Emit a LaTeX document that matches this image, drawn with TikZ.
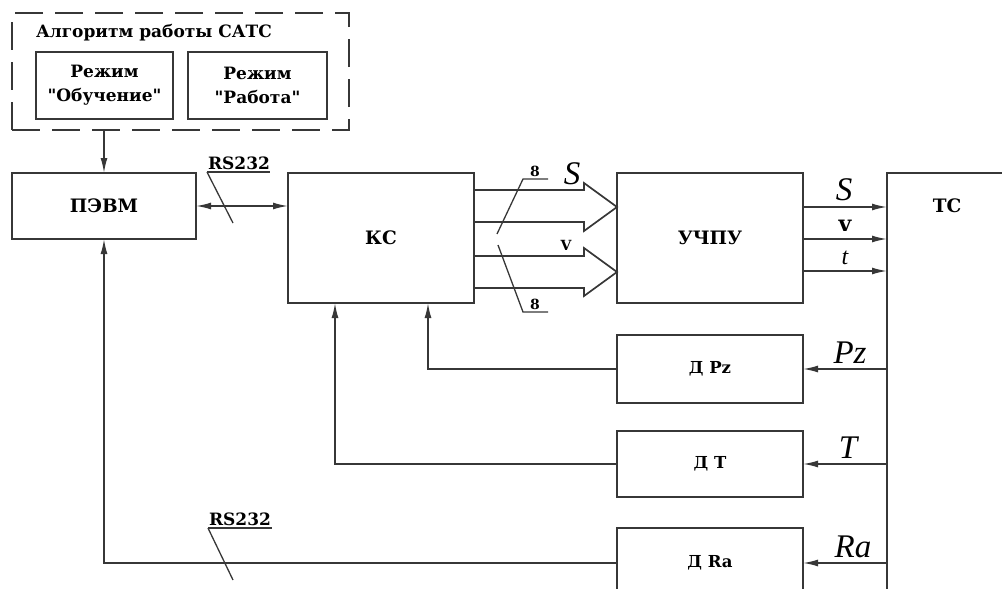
\documentclass[tikz,border=0pt]{standalone}
\usepackage{fontspec}
\setmainfont{DejaVu Serif}[Ligatures=TeXOff]
\newfontfamily\itfont{Liberation Serif}
\usetikzlibrary{arrows.meta,calc}
\definecolor{ln}{RGB}{55,55,55}
\begin{document}
\begin{tikzpicture}[x=1pt,y=-1pt,
  every node/.style={inner sep=0pt, outer sep=0pt},
  blk/.style={draw=ln, line width=1.7pt, align=center,
    font=\bfseries\fontsize{17}{24}\selectfont},
  mainbox/.style={blk, font=\bfseries\fontsize{18.5}{24}\selectfont},
  sensbox/.style={blk, minimum width=186pt, font=\bfseries\fontsize{16.5}{20}\selectfont},
  conn/.style={draw=ln, line width=1.7pt},
  arr/.style={conn, -{Latex[length=15pt,width=7pt]}},
  lbl/.style={font=\bfseries\fontsize{17}{20}\selectfont},
  small/.style={font=\bfseries\fontsize{14}{16}\selectfont},
  var/.style={font=\itfont\itshape\fontsize{33}{36}\selectfont},
]
\clip (0,0) rectangle (1002,589);
% algorithm block
\node[draw=ln, line width=1.7pt, dash pattern=on 28pt off 12pt,
      minimum width=337pt, minimum height=117pt] (alg) at (180.5,71.5) {};
\node[lbl, anchor=west] (algt) at (36,33) {Алгоритм работы САТС};
\node[blk, minimum width=137pt, minimum height=67pt] (obuch) at (104.5,85.5) {Режим\\"Обучение"};
\node[blk, minimum width=139pt, minimum height=67pt] (rab) at (257.5,85.5) {Режим\\"Работа"};
% main blocks
\node[mainbox, minimum width=184pt, minimum height=66pt] (pevm) at (104,206) {ПЭВМ};
\node[mainbox, minimum width=186pt, minimum height=130pt] (ks) at (381,238) {КС};
\node[mainbox, minimum width=186pt, minimum height=130pt] (uchpu) at (710,238) {УЧПУ};
\node[draw=ln, line width=1.7pt, minimum width=128pt, minimum height=448pt] (tc) at (951,397) {};
\node[font=\bfseries\fontsize{18.5}{20}\selectfont] (tct) at (947,206) {ТС};
\node[sensbox, minimum height=68pt] (dpz) at (710,369) {Д Pz};
\node[sensbox, minimum height=66pt] (dt) at (710,464) {Д T};
\node[sensbox, minimum height=70pt] (dra) at (710,563) {Д Ra};

% algorithm -> PC
\draw[arr] (alg.south -| pevm.north) -- (pevm.north);
% PC <-> KC
\draw[conn, {Latex[length=15pt,width=7pt]}-{Latex[length=15pt,width=7pt]}] (pevm.east) -- (pevm.east -| ks.west);
\coordinate (rs1) at (207,172);
\draw[conn, line width=1.3pt] (rs1) -- (233,223);
\draw[conn, line width=1.3pt] (rs1) -- (270,172);
\node[lbl, anchor=south] (rs1t) at (239,170) {RS232};

% hollow arrows KC -> UCHPU
\draw[conn, line join=miter]
  ($(ks.north east)+(0,17)$) -- (584,190) -- (584,183) -- ($(uchpu.north west)+(0,34)$)
  -- (584,231) -- (584,222) -- ($(ks.north east)+(0,49)$);
\draw[conn, line join=miter]
  ($(ks.north east)+(0,83)$) -- (584,256) -- (584,248) -- ($(uchpu.north west)+(0,99)$)
  -- (584,296) -- (584,288) -- ($(ks.north east)+(0,115)$);
\coordinate (e1) at (523,179);
\draw[conn, line width=1.3pt] (497,234) -- (e1) -- (548,179);
\node[small, anchor=south] (e1t) at (535,177) {8};
\coordinate (e2) at (523,312);
\draw[conn, line width=1.3pt] (498,245) -- (e2) -- (548,312);
\node[small, anchor=south] (e2t) at (535,310) {8};
\node[var] (s1) at (572,174) {S};
\node[small] (v1) at (566,245) {V};

% UCHPU -> TC
\coordinate (o1) at ($(uchpu.north east)+(0,34)$);
\coordinate (o2) at ($(uchpu.north east)+(0,66)$);
\coordinate (o3) at ($(uchpu.north east)+(0,98)$);
\draw[arr] (o1) -- (o1 -| tc.west);
\draw[arr] (o2) -- (o2 -| tc.west);
\draw[arr] (o3) -- (o3 -| tc.west);
\node[var] (s2) at (844,190) {S};
\node[font=\bfseries\fontsize{22}{24}\selectfont] (v2) at (845,226) {v};
\node[font=\itfont\itshape\fontsize{24}{26}\selectfont] (t1) at (845,258) {t};

% TC -> sensors
\draw[arr] (dpz.east -| tc.west) -- (dpz.east);
\draw[arr] (dt.east -| tc.west) -- (dt.east);
\draw[arr] (dra.east -| tc.west) -- (dra.east);
\node[var] (pz) at (850,353) {Pz};
\node[var] (tt) at (848,448) {T};
\node[var] (ra) at (853,547) {Ra};

% sensors -> KC / PC
\draw[arr] (dpz.west) -| ($(ks.south)+(47,0)$);
\draw[arr] (dt.west) -| ($(ks.south)+(-46,0)$);
\draw[arr] (dra.west) -| (pevm.south);
\coordinate (rs2) at (208,528);
\draw[conn, line width=1.3pt] (rs2) -- (233,580);
\draw[conn, line width=1.3pt] (rs2) -- (272,528);
\node[lbl, anchor=south] (rs2t) at (240,526) {RS232};
\end{tikzpicture}
\end{document}
